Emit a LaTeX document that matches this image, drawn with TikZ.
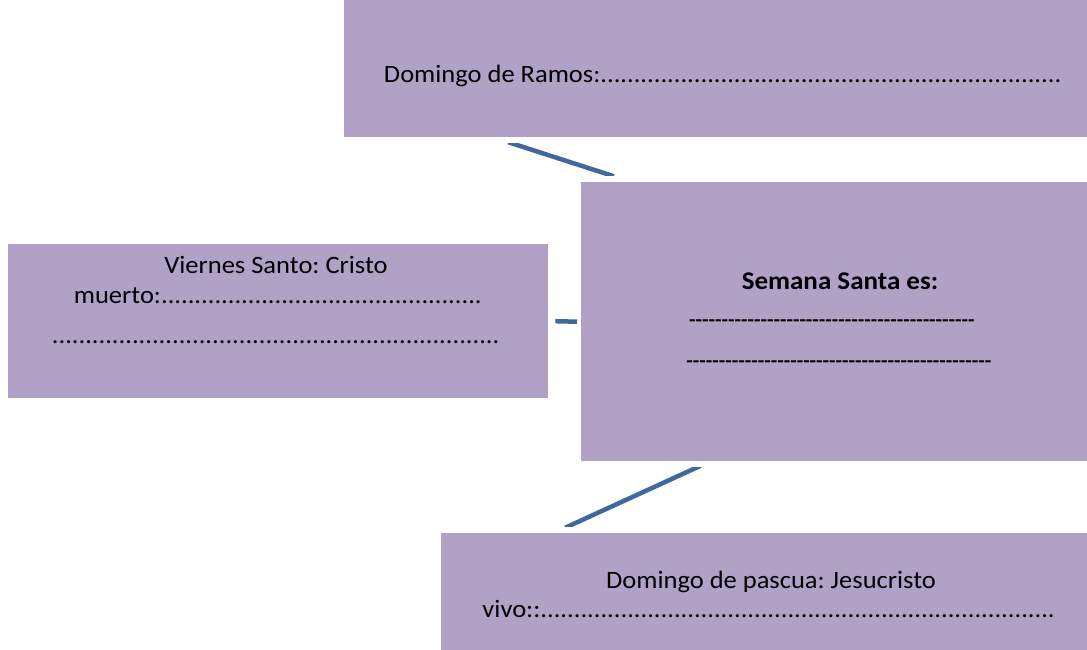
\documentclass[tikz,border=0pt]{standalone}
\usepackage{fontspec}
\setmainfont{Carlito}[FakeStretch=1.06]
\usetikzlibrary{calc}
\definecolor{lila}{HTML}{B2A1C7}
\definecolor{azul}{HTML}{41689E}
\newcommand{\puntos}[1]{\foreach \i in {1,...,#1}{.}}
\newcommand{\rayas}[1]{\foreach \i in {1,...,#1}{-}}
\frenchspacing
\tikzset{
    caja/.style={fill=lila,inner sep=0pt,anchor=north west},
    texto/.style={anchor=base,inner sep=0pt,font=\fontsize{25}{29}\selectfont},
    titulo/.style={anchor=base,inner sep=0pt,font=\fontsize{25.5}{30}\selectfont\bfseries},
    raya/.style={anchor=base,inner sep=0pt,font=\fontsize{20}{24}\selectfont\bfseries},
    enlace/.style={azul,line width=4.5pt,shorten <=-4pt,shorten >=-4pt}
}

\begin{document}
\begin{tikzpicture}[x=1pt,y=-1pt]
\useasboundingbox (0,0) rectangle (1087,650);
\node[caja,minimum width=743pt,minimum height=137pt] (ramos) at (344,0) {};
\node[caja,minimum width=506pt,minimum height=279pt] (semana) at (581,182) {};
\node[caja,minimum width=540pt,minimum height=154pt] (viernes) at (8,244) {};
\node[caja,minimum width=646pt,minimum height=117pt] (pascua) at (441,533) {};

\node[texto] (ramos1) at (723,83) {Domingo de Ramos:\puntos{69}};
\node[titulo] (semana1) at (840,289) {Semana Santa es:};
\node[raya] (semana2) at (832,326) {\rayas{44}};
\node[raya] (semana3) at (839,367) {\rayas{47}};
\node[texto] (viernes1) at (276,273) {Viernes Santo: Cristo};
\node[texto] (viernes2) at (278,303) {muerto:\puntos{48}};
\node[texto] (viernes3) at (276,343) {\puntos{67}};
\node[texto] (pascua1) at (771,588) {Domingo de pascua: Jesucristo};
\node[texto] (pascua2) at (769,617) {vivo::\puntos{77}};

\coordinate (ramosfin) at ($(ramos.south west)+(168,6)$);
\coordinate (semanaini) at ($(semana.north west)+(29,-7)$);
\coordinate (viernesfin) at ($(viernes.east)+(7,0)$);
\coordinate (semanaizq) at ($(semana.west)+(-4,0)$);
\coordinate (semanafin) at ($(semana.south west)+(116,6)$);
\coordinate (pascuaini) at ($(pascua.north west)+(128,-7)$);
\begin{scope}
\clip (ramosfin -| viernes.west) rectangle (semanaini -| semana.east);
\draw[enlace] (ramosfin) -- (semanaini);
\end{scope}
\draw[enlace,shorten <=0pt,shorten >=0pt] (viernesfin) -- (semanaizq);
\begin{scope}
\clip (semanafin -| viernes.west) rectangle (pascuaini -| semana.east);
\draw[enlace] (semanafin) -- (pascuaini);
\end{scope}
\end{tikzpicture}
\end{document}
